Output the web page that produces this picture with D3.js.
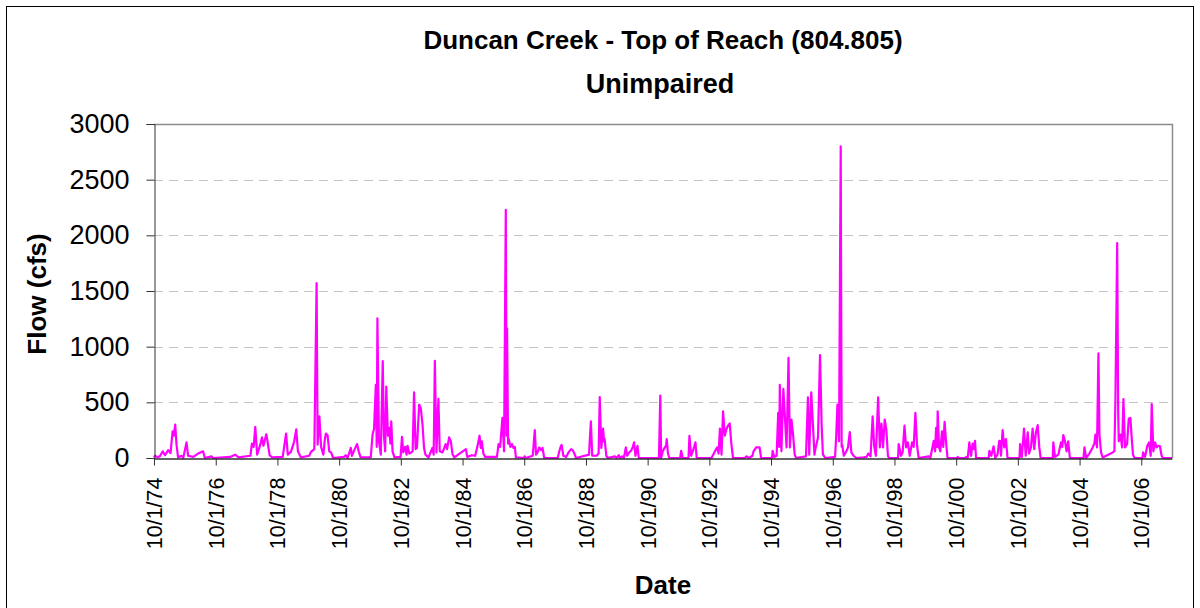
<!DOCTYPE html>
<html>
<head>
<meta charset="utf-8">
<script src="https://cdn.jsdelivr.net/npm/d3@7"></script>
<style>
  body { margin: 0; background: #fff; }
  svg { display: block; font-family: Arial, "Liberation Sans", sans-serif; }
</style>
</head>
<body>
<svg width="1200" height="608"></svg>
<script>
const chartTitle = "Duncan Creek - Top of Reach (804.805)"
const chartSubtitle = "Unimpaired"
const yLabel = "Flow (cfs)"
const xLabel = "Date"

const yTicks = [0, 500, 1000, 1500, 2000, 2500, 3000]
const xTickLabels = ["10/1/74", "10/1/76", "10/1/78", "10/1/80", "10/1/82", "10/1/84",
  "10/1/86", "10/1/88", "10/1/90", "10/1/92", "10/1/94", "10/1/96", "10/1/98",
  "10/1/00", "10/1/02", "10/1/04", "10/1/06"]
const dateRange = ["1974-10-01", "2007-09-30"]

// daily flow, peaks and troughs only
const flowSeries = [
  ["1974-10-01",5],["1974-10-12",20],["1974-11-10",8],["1974-12-10",15],["1975-01-12",60],["1975-02-09",25],["1975-03-18",70],["1975-04-15",45],["1975-05-09",240],["1975-05-24",200],["1975-06-09",300],["1975-06-24",125],["1975-07-13",5],["1975-08-24",20],["1975-09-12",0],
  ["1975-10-21",140],["1975-11-09",20],["1976-01-09",10],["1976-03-06",40],["1976-05-04",60],["1976-05-25",0],["1976-08-12",15],["1976-09-01",0],
  ["1977-03-21",10],["1977-05-19",30],["1977-06-28",5],
  ["1977-11-15",20],["1977-12-03",130],["1977-12-24",100],["1978-01-12",280],["1978-02-03",30],["1978-03-12",120],["1978-04-01",185],["1978-04-19",110],["1978-05-22",213],["1978-06-06",150],["1978-07-01",25],["1978-08-01",5],
  ["1978-12-03",10],["1979-01-12",220],["1979-02-01",30],["1979-03-10",55],["1979-04-18",150],["1979-05-12",257],["1979-06-01",60],["1979-07-06",5],
  ["1979-10-12",20],["1979-11-03",55],["1979-12-12",80],["1980-01-08",1570],["1980-01-20",120],["1980-02-10",375],["1980-03-01",100],["1980-03-28",30],["1980-04-15",170],["1980-04-27",220],["1980-05-16",207],["1980-06-06",60],["1980-06-27",50],["1980-07-22",0],
  ["1980-11-28",10],["1980-12-18",25],["1981-01-09",0],["1981-02-16",90],["1981-03-01",20],["1981-04-15",100],["1981-05-01",125],["1981-05-20",60],["1981-06-12",5],
  ["1981-10-10",5],["1981-11-01",213],["1981-11-18",260],["1981-12-09",657],["1981-12-20",100],["1981-12-28",1255],["1982-01-15",150],["1982-02-06",30],["1982-03-01",870],["1982-03-15",200],["1982-03-30",60],["1982-04-12",642],["1982-05-01",200],["1982-05-18",270],["1982-05-30",130],["1982-06-10",330],["1982-06-25",60],["1982-07-18",5],["1982-09-28",10],
  ["1982-10-15",190],["1982-10-30",50],["1982-11-22",100],["1982-12-08",30],["1982-12-20",110],["1983-01-10",40],["1983-02-18",60],["1983-03-07",590],["1983-03-25",80],["1983-04-10",90],["1983-05-06",480],["1983-05-25",450],["1983-06-15",300],["1983-07-03",90],["1983-07-20",30],["1983-08-25",5],
  ["1983-10-10",90],["1983-10-25",30],["1983-11-08",873],["1983-11-27",50],["1983-12-20",532],["1984-01-05",60],["1984-02-07",50],["1984-03-15",125],["1984-04-01",80],["1984-04-25",185],["1984-05-15",150],["1984-06-04",35],["1984-06-25",5],
  ["1984-11-10",80],["1984-11-25",10],["1985-01-20",25],["1985-02-28",20],["1985-04-01",125],["1985-04-20",200],["1985-05-05",90],["1985-05-17",150],["1985-06-05",40],["1985-06-25",10],
  ["1985-11-12",10],["1985-12-01",125],["1985-12-20",100],["1986-01-16",360],["1986-02-04",60],["1986-02-25",2230],["1986-03-06",200],["1986-03-12",1165],["1986-03-24",130],["1986-04-01",170],["1986-04-20",100],["1986-05-08",125],["1986-05-28",90],["1986-06-12",100],["1986-06-24",5],["1986-09-28",0],
  ["1986-10-05",15],["1986-10-16",0],["1987-01-10",20],["1987-02-03",250],["1987-02-18",30],["1987-03-08",50],["1987-03-28",95],["1987-04-18",70],["1987-05-06",90],["1987-05-26",0],
  ["1987-11-01",0],["1987-11-22",65],["1987-12-06",100],["1987-12-18",118],["1988-01-07",20],["1988-02-10",10],["1988-03-08",50],["1988-04-08",80],["1988-04-27",70],["1988-05-17",40],["1988-06-06",0],
  ["1988-11-06",30],["1988-11-28",330],["1988-12-14",20],["1989-02-05",20],["1989-02-28",40],["1989-03-13",548],["1989-04-01",90],["1989-04-22",263],["1989-05-03",150],["1989-05-10",170],["1989-05-30",20],["1989-06-18",0],["1989-09-08",15],["1989-09-28",0],
  ["1989-10-25",25],["1989-11-10",0],["1989-12-05",15],["1989-12-24",0],["1990-01-16",95],["1990-02-01",20],["1990-02-24",50],["1990-03-23",70],["1990-04-08",100],["1990-04-24",140],["1990-05-10",20],["1990-06-03",110],["1990-06-18",0],
  ["1991-02-12",0],["1991-02-28",560],["1991-03-10",0],["1991-03-29",60],["1991-04-18",90],["1991-05-08",110],["1991-05-15",170],["1991-05-30",40],["1991-06-15",0],
  ["1991-10-21",0],["1991-11-02",65],["1991-11-20",0],["1992-01-28",0],["1992-02-08",200],["1992-02-28",20],["1992-03-18",60],["1992-04-04",100],["1992-04-19",140],["1992-05-04",0],
  ["1992-10-26",0],["1992-11-15",30],["1992-12-12",70],["1993-01-01",95],["1993-01-18",40],["1993-02-03",265],["1993-02-22",30],["1993-03-12",420],["1993-04-01",200],["1993-04-21",260],["1993-05-10",290],["1993-05-30",310],["1993-06-18",130],["1993-07-08",0],
  ["1993-11-24",0],["1993-12-14",15],["1994-01-13",0],["1994-02-23",20],["1994-03-08",60],["1994-04-08",95],["1994-05-18",95],["1994-06-06",0],
  ["1994-10-12",0],["1994-10-20",65],["1994-11-08",10],["1994-12-06",20],["1994-12-25",405],["1995-01-06",100],["1995-01-13",657],["1995-02-01",60],["1995-02-24",620],["1995-03-18",315],["1995-04-03",95],["1995-04-26",900],["1995-05-12",95],["1995-05-31",345],["1995-06-19",210],["1995-07-08",30],["1995-07-27",0],
  ["1995-11-19",15],["1995-12-12",545],["1995-12-27",30],["1996-01-20",590],["1996-02-12",255],["1996-02-27",30],["1996-03-13",95],["1996-04-09",185],["1996-05-03",925],["1996-05-22",300],["1996-06-06",30],["1996-07-07",0],
  ["1996-10-28",10],["1996-11-09",170],["1996-11-25",480],["1996-12-14",150],["1997-01-03",2800],["1997-01-14",100],["1997-01-20",120],["1997-02-09",20],["1997-03-11",60],["1997-03-30",95],["1997-04-20",233],["1997-05-09",50],["1997-06-05",20],["1997-07-06",0],["1997-09-28",5],
  ["1997-11-06",10],["1997-11-25",40],["1997-12-22",15],["1998-01-16",375],["1998-02-03",110],["1998-02-23",20],["1998-03-22",545],["1998-04-11",95],["1998-04-30",310],["1998-05-19",95],["1998-06-08",345],["1998-06-27",255],["1998-07-16",20],["1998-07-28",0],
  ["1998-11-13",0],["1998-11-20",125],["1998-12-18",20],["1999-01-06",50],["1999-01-28",290],["1999-02-16",95],["1999-03-08",140],["1999-03-31",20],["1999-04-28",140],["1999-05-17",100],["1999-06-06",405],["1999-06-26",110],["1999-07-15",0],
  ["1999-11-10",15],["1999-11-30",0],["2000-01-09",155],["2000-01-25",60],["2000-02-06",270],["2000-02-18",100],["2000-02-25",420],["2000-03-12",95],["2000-03-27",60],["2000-04-16",240],["2000-05-01",100],["2000-05-17",325],["2000-06-05",125],["2000-06-21",0],
  ["2000-10-12",0],["2000-10-19",10],["2000-10-31",0],["2001-01-19",0],["2001-01-27",10],["2001-02-14",0],["2001-03-06",140],["2001-03-26",20],["2001-04-14",130],["2001-04-30",80],["2001-05-12",155],["2001-05-24",0],
  ["2001-10-21",0],["2001-10-29",65],["2001-11-21",20],["2001-12-18",105],["2002-01-07",0],["2002-02-03",30],["2002-02-23",155],["2002-03-07",150],["2002-03-15",20],["2002-04-04",250],["2002-04-23",95],["2002-05-13",170],["2002-06-01",0],
  ["2002-10-20",0],["2002-10-28",125],["2002-11-17",10],["2002-12-13",265],["2003-01-02",20],["2003-01-26",230],["2003-02-10",40],["2003-03-05",95],["2003-03-25",265],["2003-04-13",80],["2003-05-03",230],["2003-05-24",295],["2003-06-12",95],["2003-06-28",0],
  ["2003-11-18",0],["2003-11-25",140],["2003-12-15",10],["2004-01-23",30],["2004-02-24",140],["2004-03-10",100],["2004-03-22",205],["2004-04-10",155],["2004-04-30",60],["2004-05-19",150],["2004-06-08",0],
  ["2004-11-16",0],["2004-11-28",95],["2004-12-17",0],["2005-01-25",40],["2005-03-05",95],["2005-03-25",130],["2005-04-06",210],["2005-04-25",95],["2005-05-12",940],["2005-05-24",210],["2005-06-12",50],["2005-07-01",5],
  ["2005-10-28",50],["2005-11-17",65],["2005-11-29",515],["2005-12-20",1930],["2006-01-01",400],["2006-01-08",150],["2006-01-28",210],["2006-02-16",95],["2006-03-04",530],["2006-03-23",95],["2006-04-16",125],["2006-05-06",355],["2006-05-25",360],["2006-06-13",150],["2006-06-25",30],["2006-07-14",0],
  ["2006-10-15",0],["2006-10-23",50],["2006-11-15",10],["2006-12-12",110],["2007-01-01",140],["2007-01-21",20],["2007-02-02",485],["2007-02-21",60],["2007-03-13",140],["2007-04-01",95],["2007-04-21",110],["2007-05-10",105],["2007-05-30",20],["2007-06-15",0],["2007-09-30",0]
]

var svg = d3.select("svg"),
    plot = {left: 154, right: 1172, top: 124, bottom: 458};

var parseIso = d3.timeParse("%Y-%m-%d"),
    parseTick = d3.timeParse("%m/%d/%y");

var data = flowSeries.map(function(d) { return {date: parseIso(d[0]), flow: d[1]}; });

var x = d3.scaleTime()
    .domain(dateRange.map(parseIso))
    .range([plot.left, plot.right]);

var y = d3.scaleLinear()
    .domain([0, 3000])
    .range([plot.bottom, plot.top]);

// outer chart border
svg.append("rect")
    .attr("x", 6.5).attr("y", 6.5)
    .attr("width", 1187).attr("height", 640)
    .attr("fill", "none").attr("stroke", "#000");

// dashed gridlines
svg.append("g")
  .selectAll("line")
  .data(yTicks.filter(function(t) { return t > 0 && t < 3000; }))
  .enter().append("line")
    .attr("x1", plot.left).attr("x2", plot.right)
    .attr("y1", function(d) { return Math.round(y(d)) + 0.5; })
    .attr("y2", function(d) { return Math.round(y(d)) + 0.5; })
    .attr("stroke", "#c4c4c4")
    .attr("stroke-dasharray", "9,6");

// plot frame (top + right in gray)
svg.append("path")
    .attr("d", "M" + plot.left + "," + (plot.top + 0.5) + "H" + (plot.right + 0.5) + "V" + plot.bottom)
    .attr("fill", "none")
    .attr("stroke", "#8c8c8c")
    .attr("stroke-width", 1.5);

// flow line
var line = d3.line()
    .x(function(d) { return x(d.date); })
    .y(function(d) { return y(d.flow); });

svg.append("path")
    .datum(data)
    .attr("d", line)
    .attr("fill", "none")
    .attr("stroke", "#ff00ff")
    .attr("stroke-width", 2.2)
    .attr("stroke-linejoin", "round");

// y axis
var yAxis = svg.append("g")
    .attr("transform", "translate(" + (plot.left + 0.5) + ",0)")
    .call(d3.axisLeft(y).tickValues(yTicks).tickSize(8).tickPadding(17).tickFormat(d3.format("d")));
yAxis.select(".domain").attr("stroke", "#333");
yAxis.selectAll(".tick line").attr("stroke", "#333");
yAxis.selectAll("text")
    .attr("font-size", 27)
    .attr("font-family", "Arial, 'Liberation Sans', sans-serif")
    .attr("fill", "#000");

// x axis
var xAxis = svg.append("g")
    .attr("transform", "translate(0," + (plot.bottom + 0.5) + ")")
    .call(d3.axisBottom(x)
      .tickValues(xTickLabels.map(parseTick))
      .tickSize(7)
      .tickSizeOuter(0)
      .tickFormat(function(d, i) { return xTickLabels[i]; }));
xAxis.select(".domain").attr("stroke", "#333").attr("stroke-width", 1.5);
xAxis.selectAll(".tick line").attr("stroke", "#333");
xAxis.selectAll("text")
    .attr("font-size", 21.5)
    .attr("font-family", "Arial, 'Liberation Sans', sans-serif")
    .attr("fill", "#000")
    .attr("text-anchor", "end")
    .attr("transform", "rotate(-90)")
    .attr("x", -19)
    .attr("y", 0)
    .attr("dy", "0.35em");

// titles
svg.append("text")
    .attr("x", 663).attr("y", 49)
    .attr("text-anchor", "middle")
    .attr("font-size", 26).attr("font-weight", "bold")
    .text(chartTitle);

svg.append("text")
    .attr("x", 660).attr("y", 93)
    .attr("text-anchor", "middle")
    .attr("font-size", 27).attr("font-weight", "bold")
    .text(chartSubtitle);

svg.append("text")
    .attr("transform", "translate(46,294) rotate(-90)")
    .attr("text-anchor", "middle")
    .attr("font-size", 26).attr("font-weight", "bold")
    .text(yLabel);

svg.append("text")
    .attr("x", 663).attr("y", 594)
    .attr("text-anchor", "middle")
    .attr("font-size", 26).attr("font-weight", "bold")
    .text(xLabel);
</script>
</body>
</html>
